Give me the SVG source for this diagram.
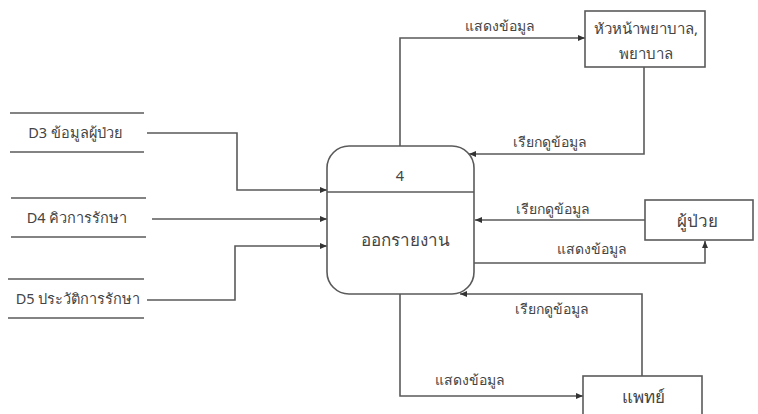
<svg xmlns="http://www.w3.org/2000/svg" width="758" height="414" viewBox="0 0 758 414">
<defs>
<marker id="ah" markerWidth="8" markerHeight="8" refX="7" refY="4" orient="auto" markerUnits="userSpaceOnUse">
<path d="M0,1 L7,4 L0,7 Z" fill="#333"/>
</marker>
<style>
.ln{fill:none;stroke:#5a5a5a;stroke-width:1.6}
.bx{fill:#fff;stroke:#5a5a5a;stroke-width:1.6}
.t{font-family:"Noto Sans","DejaVu Sans",sans-serif;fill:#444;text-anchor:middle}
.s{font-size:14px}
.h{font-size:15px}
.m{font-size:14.5px}
.l{font-size:17px}
</style>
</defs>
<rect width="758" height="414" fill="#fff"/>
<g id="connectors">
<path class="ln" marker-end="url(#ah)" d="M147,133 H237 V190 H327"/>
<path class="ln" marker-end="url(#ah)" d="M152,219 H327"/>
<path class="ln" marker-end="url(#ah)" d="M147,300 H235 V246 H327"/>
<path class="ln" marker-end="url(#ah)" d="M400,146 V38 H585"/>
<path class="ln" marker-end="url(#ah)" d="M644,67 V154 H469"/>
<path class="ln" marker-end="url(#ah)" d="M645,220 H475"/>
<path class="ln" marker-end="url(#ah)" d="M474,263 H705 V241"/>
<path class="ln" marker-end="url(#ah)" d="M642,377 V294 H460"/>
<path class="ln" marker-end="url(#ah)" d="M400,294 V396 H583"/>
<text class="t s" x="500" y="31">แสดงข้อมูล</text>
<text class="t s" x="550" y="147">เรียกดูข้อมูล</text>
<text class="t s" x="553" y="214">เรียกดูข้อมูล</text>
<text class="t s" x="592" y="254">แสดงข้อมูล</text>
<text class="t s" x="552" y="314">เรียกดูข้อมูล</text>
<text class="t s" x="470" y="385">แสดงข้อมูล</text>
</g>
<g id="process4">
<rect class="bx" x="327" y="146" width="147" height="148" rx="22"/>
<line class="ln" x1="327" y1="192" x2="474" y2="192"/>
<text class="t m" x="400" y="181">4</text>
<text class="t l" x="405" y="246">ออกรายงาน</text>
</g>
<g id="headnurse">
<rect class="bx" x="585" y="11" width="120" height="56"/>
<text class="t h" x="646" y="34">หัวหน้าพยาบาล,</text>
<text class="t h" x="646" y="59">พยาบาล</text>
</g>
<g id="patient">
<rect class="bx" x="645" y="200" width="108" height="40"/>
<text class="t l" x="697" y="227">ผู้ป่วย</text>
</g>
<g id="doctor">
<rect class="bx" x="583" y="376" width="119" height="45"/>
<text class="t l" x="643" y="403">แพทย์</text>
</g>
<g id="D3">
<line class="ln" x1="10" y1="113" x2="144" y2="113"/>
<line class="ln" x1="10" y1="152" x2="144" y2="152"/>
<text class="t m" x="75" y="138">D3 ข้อมูลผู้ป่วย</text>
</g>
<g id="D4">
<line class="ln" x1="11" y1="198" x2="146" y2="198"/>
<line class="ln" x1="11" y1="237" x2="146" y2="237"/>
<text class="t m" x="77" y="223">D4 คิวการรักษา</text>
</g>
<g id="D5">
<line class="ln" x1="8" y1="279" x2="144" y2="279"/>
<line class="ln" x1="8" y1="318" x2="144" y2="318"/>
<text class="t m" x="78" y="304">D5 ประวัติการรักษา</text>
</g>
</svg>
